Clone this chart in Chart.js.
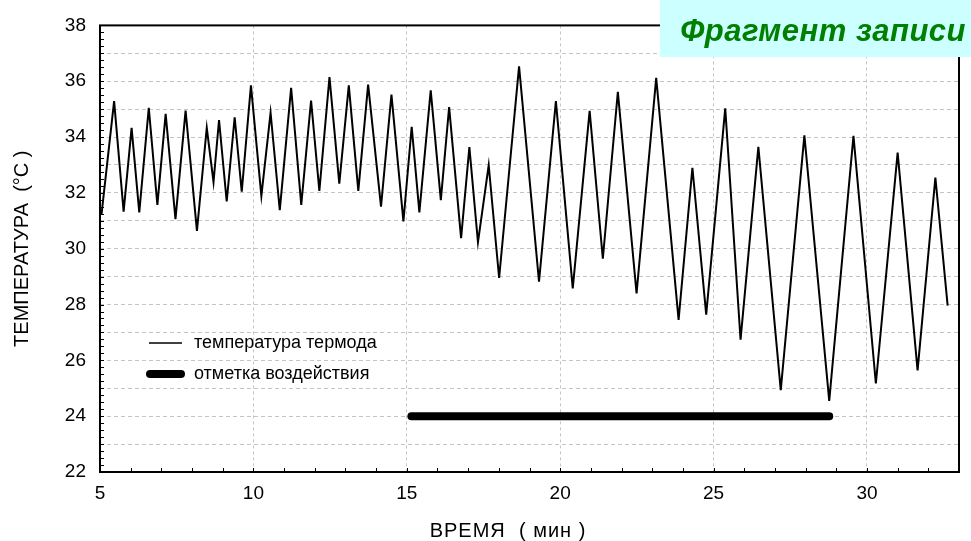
<!DOCTYPE html>
<html>
<head>
<meta charset="utf-8">
<script src="https://cdn.jsdelivr.net/npm/chart.js@4"></script>
<style>
  html, body { margin: 0; padding: 0; background: #fff; }
  #wrap { width: 971px; height: 541px; }
</style>
</head>
<body>
<div id="wrap"><canvas id="chart" width="971" height="541"></canvas></div>
<script>
// time, min
var timeMin = [5.05, 5.46, 5.77, 6.03, 6.28, 6.59, 6.87, 7.14, 7.46, 7.79, 8.16, 8.48, 8.70, 8.88,
  9.13, 9.39, 9.62, 9.92, 10.26, 10.56, 10.86, 11.23, 11.56, 11.88, 12.15, 12.48, 12.80, 13.11,
  13.42, 13.74, 14.16, 14.50, 14.89, 15.16, 15.41, 15.78, 16.11, 16.38, 16.77, 17.04, 17.32, 17.67,
  18.01, 18.66, 19.31, 19.86, 20.41, 20.96, 21.39, 21.88, 22.49, 23.13, 23.86, 24.31, 24.76, 25.38,
  25.88, 26.46, 27.19, 27.96, 28.77, 29.56, 30.29, 31.00, 31.65, 32.23, 32.63];
// thermode temperature, C
var tempC = [31.24, 35.29, 31.33, 34.33, 31.30, 35.05, 31.57, 34.83, 31.06, 34.95, 30.64, 34.33, 32.39, 34.61,
  31.69, 34.71, 32.04, 35.85, 31.89, 34.87, 31.38, 35.76, 31.57, 35.31, 32.07, 36.15, 32.33, 35.85,
  32.07, 35.88, 31.51, 35.52, 30.98, 34.37, 31.30, 35.67, 31.74, 35.07, 30.38, 33.64, 30.23, 32.99,
  28.95, 36.53, 28.82, 35.29, 28.58, 34.94, 29.64, 35.62, 28.40, 36.12, 27.45, 32.90, 27.64, 35.03,
  26.74, 33.65, 24.93, 34.06, 24.55, 34.04, 25.17, 33.44, 25.64, 32.55, 27.96];
// exposure mark
var markMin = [15.15, 28.77];
var markLevel = [24, 24];

var xLabels = [5, 10, 15, 20, 25, 30];
var yLabels = [22, 24, 26, 28, 30, 32, 34, 36, 38];

var FONT = '"Liberation Sans", Arial, sans-serif';

function pts(xs, ys) {
  var out = [];
  for (var i = 0; i < xs.length; i++) out.push({x: xs[i], y: ys[i]});
  return out;
}

// frame, inner ticks, axis titles, legend, caption box
var decor = {
  id: 'decor',
  afterDraw: function(chart) {
    var ctx = chart.ctx, a = chart.chartArea;
    var xs = chart.scales.x, ys = chart.scales.y;
    ctx.save();
    ctx.strokeStyle = '#000';
    ctx.lineWidth = 1;
    ctx.setLineDash([]);
    ctx.beginPath();
    for (var m = 6; m < 33; m++) {
      var px = Math.round(xs.getPixelForValue(m)) + 0.5;
      ctx.moveTo(px, a.bottom);
      ctx.lineTo(px, a.bottom - 4);
    }
    for (var v = 22.25; v < 38; v += 0.25) {
      var py = Math.round(ys.getPixelForValue(v)) + 0.5;
      ctx.moveTo(a.left, py);
      ctx.lineTo(a.left + 4, py);
    }
    ctx.stroke();

    ctx.lineWidth = 2;
    ctx.strokeRect(a.left, a.top, a.right - a.left, a.bottom - a.top);

    // axis titles
    ctx.fillStyle = '#000';
    ctx.font = '20px ' + FONT;
    ctx.textAlign = 'center';
    ctx.textBaseline = 'middle';
    ctx.letterSpacing = '1px';
    ctx.fillText('ВРЕМЯ  ( мин )', 508, 531);
    ctx.letterSpacing = '0px';
    ctx.save();
    ctx.translate(22, (a.top + a.bottom) / 2);
    ctx.rotate(-Math.PI / 2);
    ctx.fillText('ТЕМПЕРАТУРА  (°C )', 0, 0);
    ctx.restore();

    // legend
    var ds = chart.data.datasets;
    var rows = [343, 374];
    ctx.textAlign = 'left';
    ctx.font = '18px ' + FONT;
    for (var i = 0; i < ds.length; i++) {
      ctx.beginPath();
      ctx.lineCap = ds[i].borderCapStyle || 'butt';
      ctx.lineWidth = i === 0 ? 1.3 : 8;
      ctx.strokeStyle = ds[i].borderColor;
      ctx.moveTo(i === 0 ? 149 : 150, rows[i]);
      ctx.lineTo(i === 0 ? 182 : 181, rows[i]);
      ctx.stroke();
      ctx.fillText(ds[i].label, 194, rows[i]);
    }

    // caption box
    ctx.fillStyle = '#ccffff';
    ctx.fillRect(660, 0, 311, 57);
    ctx.fillStyle = '#008000';
    ctx.font = 'italic bold 31px ' + FONT;
    ctx.letterSpacing = '0.5px';
    ctx.textAlign = 'right';
    ctx.textBaseline = 'alphabetic';
    ctx.fillText('Фрагмент записи', 966, 41);
    ctx.restore();
  }
};

new Chart(document.getElementById('chart'), {
  type: 'line',
  data: {
    datasets: [{
      label: 'температура термода',
      data: pts(timeMin, tempC),
      borderColor: '#000',
      borderWidth: 2,
      pointRadius: 0,
      tension: 0
    }, {
      label: 'отметка воздействия',
      data: pts(markMin, markLevel),
      borderColor: '#000',
      borderWidth: 8,
      borderCapStyle: 'round',
      pointRadius: 0
    }]
  },
  options: {
    responsive: false,
    animation: false,
    devicePixelRatio: 1,
    layout: { padding: { top: 24, right: 12, left: 0, bottom: 0 } },
    plugins: { legend: { display: false }, tooltip: { enabled: false } },
    scales: {
      x: {
        type: 'linear',
        min: 5,
        max: 33,
        afterFit: function(s) { s.height = 69; },
        ticks: {
          stepSize: 1,
          autoSkip: false,
          maxRotation: 0,
          padding: 10,
          color: '#000',
          font: { family: FONT, size: 19 },
          callback: function(v) { return xLabels.indexOf(v) >= 0 ? String(v) : ''; }
        },
        grid: {
          drawTicks: false,
          lineWidth: 1,
          color: function(c) {
            var v = c.tick ? c.tick.value : null;
            return (v !== null && v % 5 === 0 && v > 5) ? '#c4c4c4' : 'rgba(0,0,0,0)';
          }
        },
        border: { display: false, dash: [3, 3] }
      },
      y: {
        min: 22,
        max: 38,
        afterFit: function(s) { s.width = 100; },
        ticks: {
          stepSize: 1,
          autoSkip: false,
          padding: 14,
          color: '#000',
          font: { family: FONT, size: 19 },
          callback: function(v) { return yLabels.indexOf(v) >= 0 ? String(v) : ''; }
        },
        grid: {
          drawTicks: false,
          lineWidth: 1,
          color: function(c) {
            var v = c.tick ? c.tick.value : null;
            return (v !== null && v > 22 && v < 38) ? '#c4c4c4' : 'rgba(0,0,0,0)';
          }
        },
        border: { display: false, dash: [4, 3] }
      }
    }
  },
  plugins: [decor]
});
</script>
</body>
</html>
